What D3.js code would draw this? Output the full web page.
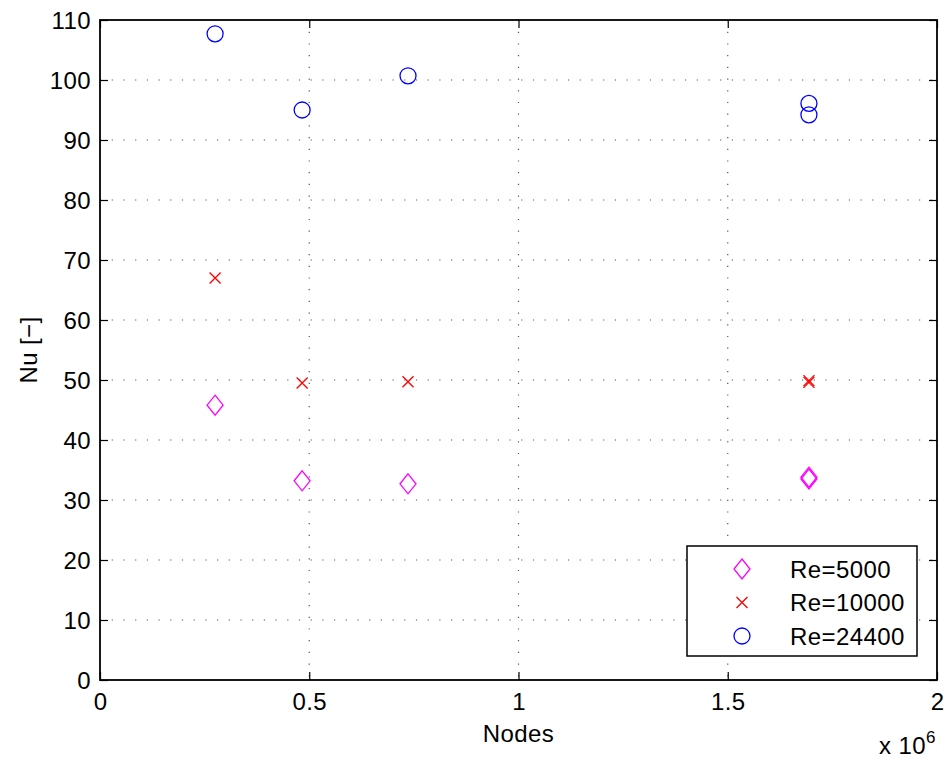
<!DOCTYPE html>
<html>
<head>
<meta charset="utf-8">
<script src="https://cdn.jsdelivr.net/npm/d3@7"></script>
<style>
	body { margin: 0; background: #fff; }
	text { font-family: "Liberation Sans", Arial, sans-serif; fill: #000; letter-spacing: 0.4px; }
</style>
</head>
<body>
<svg id="chart" width="948" height="763"></svg>
<script>
	/* Data */
	let nodes = [275000, 483000, 736000, 1694000, 1694000];
	let nuRe5000 = [45.8, 33.2, 32.7, 33.8, 33.5];
	let nuRe10000 = [67.0, 49.5, 49.7, 49.9, 49.6];
	let nuRe24400 = [107.7, 95.0, 100.7, 96.1, 94.2];
	let xTicks = [0, 0.5, 1, 1.5, 2];
	let yTicks = [0, 10, 20, 30, 40, 50, 60, 70, 80, 90, 100, 110];
	let seriesNames = ["Re=5000", "Re=10000", "Re=24400"];

	/* Layout */
	let margin = { left: 100, top: 20, right: 11, bottom: 83 };
	let width = 948 - margin.left - margin.right;
	let height = 763 - margin.top - margin.bottom;
	let fontSize = "24px";

	let svg = d3.select("#chart");
	let g = svg.append("g").attr("transform", "translate(" + margin.left + "," + margin.top + ")");

	let xScale = d3.scaleLinear().domain([0, 2e6]).range([0, width]);
	let yScale = d3.scaleLinear().domain([0, 110]).range([height, 0]);

	// Grid
	g.selectAll(".vgrid")
		.data(xTicks.slice(1, -1))
		.enter().append("line")
		.attr("x1", function(d) { return xScale(d * 1e6); })
		.attr("x2", function(d) { return xScale(d * 1e6); })
		.attr("y1", 0).attr("y2", height)
		.attr("stroke", "#555").attr("stroke-width", 1.2)
		.attr("stroke-dasharray", "1.2,10.5");
	g.selectAll(".hgrid")
		.data(yTicks.slice(1, -1))
		.enter().append("line")
		.attr("y1", function(d) { return yScale(d); })
		.attr("y2", function(d) { return yScale(d); })
		.attr("x1", 0).attr("x2", width)
		.attr("stroke", "#555").attr("stroke-width", 1.2)
		.attr("stroke-dasharray", "1.2,10.5");

	// Axes with inward ticks on all four sides
	let tickLen = 8;
	let xTickValues = xTicks.map(function(d) { return d * 1e6; });
	let xAxis = d3.axisBottom(xScale).tickValues(xTickValues)
		.tickFormat(function(d) { return d3.format("")(d / 1e6); })
		.tickSizeInner(-tickLen).tickSizeOuter(0);
	let yAxis = d3.axisLeft(yScale).tickValues(yTicks)
		.tickSizeInner(-tickLen).tickSizeOuter(0);

	let gx = g.append("g").attr("transform", "translate(0," + height + ")").call(xAxis);
	let gy = g.append("g").call(yAxis);
	g.append("g").call(d3.axisTop(xScale).tickValues(xTickValues)
		.tickFormat("").tickSizeInner(-tickLen).tickSizeOuter(0));
	g.append("g").attr("transform", "translate(" + width + ",0)")
		.call(d3.axisRight(yScale).tickValues(yTicks).tickFormat("").tickSizeInner(-tickLen).tickSizeOuter(0));

	g.selectAll(".domain").remove();
	g.selectAll(".tick line").attr("stroke", "#000").attr("stroke-width", 1.2);
	g.selectAll(".tick text").attr("font-family", null).style("font-size", fontSize).attr("fill", "#000");
	gx.selectAll(".tick text").attr("y", 30).attr("dy", 0);
	gy.selectAll(".tick text").attr("x", -9).attr("dy", "0.36em");

	g.append("rect")
		.attr("width", width).attr("height", height)
		.attr("fill", "none").attr("stroke", "#000").attr("stroke-width", 1.8);

	// Markers
	let markers = {
		diamond: function(sel) {
			sel.append("path").attr("d", "M0,-10L8,0L0,10L-8,0Z")
				.attr("fill", "none").attr("stroke", "#ff00ff").attr("stroke-width", 1.3);
		},
		cross: function(sel) {
			sel.append("path").attr("d", "M-5.5,-5.5L5.5,5.5M-5.5,5.5L5.5,-5.5")
				.attr("fill", "none").attr("stroke", "#ff0000").attr("stroke-width", 1.3);
		},
		circle: function(sel) {
			sel.append("circle").attr("r", 8)
				.attr("fill", "none").attr("stroke", "#0000ff").attr("stroke-width", 1.3);
		}
	};

	let series = [
		{ name: seriesNames[0], values: nuRe5000, marker: "diamond" },
		{ name: seriesNames[1], values: nuRe10000, marker: "cross" },
		{ name: seriesNames[2], values: nuRe24400, marker: "circle" }
	];

	series.forEach(function(s) {
		g.selectAll(".pt-" + s.marker)
			.data(s.values)
			.enter().append("g")
			.attr("transform", function(d, i) { return "translate(" + xScale(nodes[i]) + "," + yScale(d) + ")"; })
			.call(markers[s.marker]);
	});

	// Legend
	let legend = g.append("g").attr("transform", "translate(" + (687 - margin.left) + "," + (546 - margin.top) + ")");
	legend.append("rect").attr("width", 230).attr("height", 110)
		.attr("fill", "#fff").attr("stroke", "#000").attr("stroke-width", 1.5);
	series.forEach(function(s, i) {
		let row = legend.append("g").attr("transform", "translate(0," + (23 + i * 33.5) + ")");
		row.append("g").attr("transform", "translate(55,0)").call(markers[s.marker]);
		row.append("text").attr("x", 103).attr("y", 0).attr("dy", "0.36em")
			.style("font-size", fontSize).text(s.name);
	});

	// Labels
	svg.append("text").attr("x", margin.left + width / 2).attr("y", 742)
		.attr("text-anchor", "middle").style("font-size", fontSize).text("Nodes");
	svg.append("text").attr("transform", "translate(37," + (margin.top + height / 2) + ") rotate(-90)")
		.attr("text-anchor", "middle").style("font-size", fontSize).text("Nu [\u2212]");
	let exp = svg.append("text").attr("x", 879).attr("y", 754).style("font-size", fontSize);
	exp.append("tspan").text("x 10");
	exp.append("tspan").attr("dy", -11).style("font-size", "17px").text("6");
</script>
</body>
</html>
